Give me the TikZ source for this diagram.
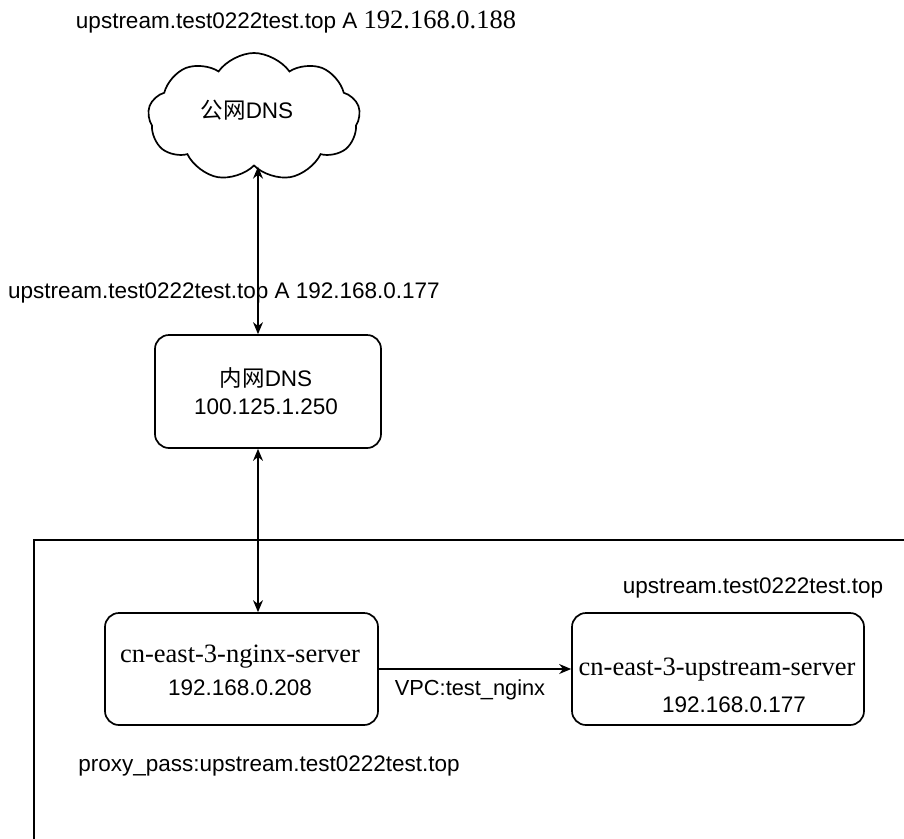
\documentclass[tikz,border=0pt]{standalone}
\usepackage{fontspec}
\setmainfont{Liberation Sans}
\newfontfamily\seriffont{Liberation Serif}
\newfontfamily\cjk{Noto Sans CJK SC}
\usetikzlibrary{shapes.symbols,arrows.meta}
\begin{document}
\begin{tikzpicture}[x=1pt,y=-1pt,
  box/.style={draw, rounded corners=14pt, line width=1.7pt, inner sep=0pt},
  txt/.style={inner sep=0pt, align=center, font=\fontsize{22.5}{28}\selectfont},
  stxt/.style={inner sep=0pt, align=center, font=\fontsize{26.5}{31}\selectfont\seriffont},
  dlink/.style={line width=1.4pt, {Stealth[length=12pt,width=10pt]}-{Stealth[length=12pt,width=10pt]}},
  link/.style={line width=1.4pt, -{Stealth[length=12pt,width=10pt]}}]
\useasboundingbox (0,0) rectangle (904,838);
\fill[white] (0,0) rectangle (904,838);
% outer region
\draw[line width=1.7pt] (34,840) -- (34,540) -- (906,540);
% top label
\node[txt] (toplbl) at (296,22) {upstream.test0222test.top A {\fontsize{26.5}{28}\selectfont\seriffont 192.168.0.188}};
% cloud
\node[cloud, draw, line width=1.7pt, cloud puffs=9, cloud puff arc=110, aspect=1.7,
      minimum width=212pt, minimum height=128pt, inner sep=0pt] (pub) at (254,117) {};
\node[txt] (pubtxt) at (247,110) {{\cjk 公网}DNS};
% middle label
\node[txt] (midlbl) at (224,293) {upstream.test0222test.top A 192.168.0.177};
% internal DNS
\node[box, minimum width=226pt, minimum height=113pt] (dns) at (268,391.5) {};
\node[txt] (dnstxt) at (266,391) {{\cjk 内网}DNS\\100.125.1.250};
% nginx
\node[box, minimum width=273pt, minimum height=112pt] (ngx) at (241.5,669) {};
\node[stxt] (ngxt1) at (240,657) {cn-east-3-nginx-server};
\node[txt] (ngxt2) at (240,688) {192.168.0.208};
% upstream
\node[box, minimum width=292pt, minimum height=112pt] (ups) at (718,669) {};
\node[stxt] (upst1) at (717,670) {cn-east-3-upstream-server};
\node[txt] (upst2) at (734,705) {192.168.0.177};
\node[txt] (upslbl) at (753,588) {upstream.test0222test.top};
% VPC label
\node[inner sep=0pt, font=\fontsize{21.8}{26}\selectfont] (vpc) at (470,690) {VPC:test\_nginx};
% proxy label
\node[txt] (proxy) at (269,766) {proxy\_pass:upstream.test0222test.top};
% connectors
\coordinate (ax) at (258,0);
\draw[dlink] (pub.south -| ax) -- (dns.north -| ax);
\draw[dlink] (dns.south -| ax) -- (ngx.north -| ax);
\draw[link] (ngx.east) -- (ups.west);
\end{tikzpicture}
\end{document}
